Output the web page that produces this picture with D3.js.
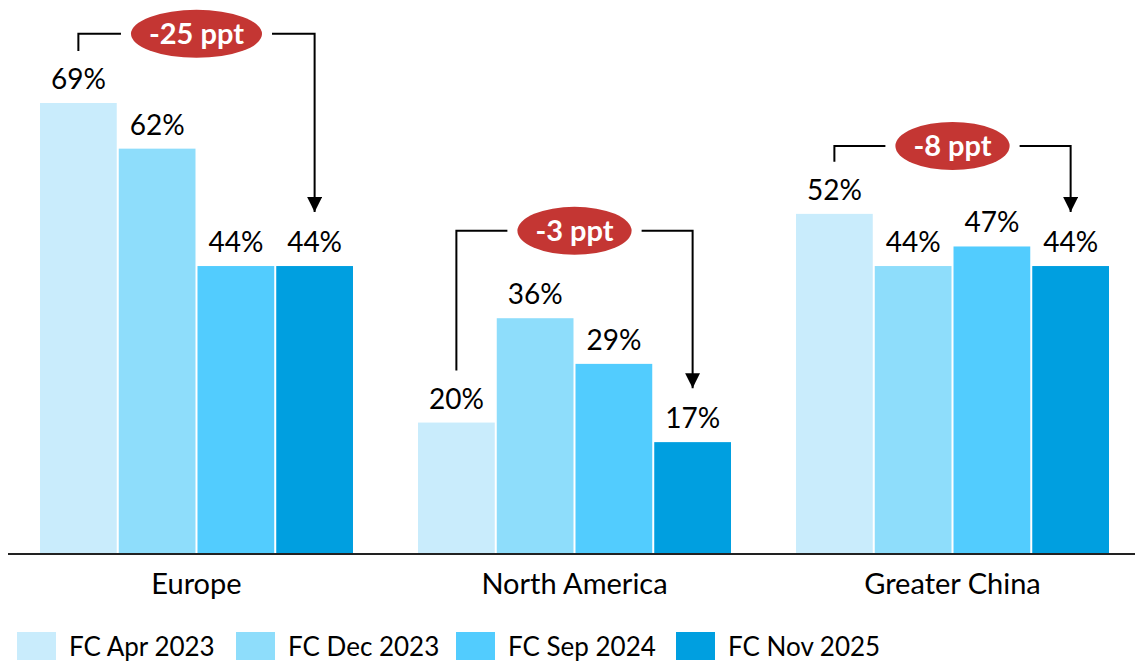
<!DOCTYPE html>
<html>
<head>
<meta charset="utf-8">
<script src="https://cdn.jsdelivr.net/npm/d3@7"></script>
<style>
  html, body { margin: 0; padding: 0; background: #fff; }
  svg { display: block; font-family: Lato, "Open Sans", sans-serif; }
</style>
</head>
<body>
<svg id="chart" width="1135" height="662"></svg>
<script>
// Regions and forecast vintages
const regions = ["Europe", "North America", "Greater China"];
const series = ["FC Apr 2023", "FC Dec 2023", "FC Sep 2024", "FC Nov 2025"];
const colors = ["#C9ECFC", "#8EDDFB", "#52CCFE", "#009FE0"];

// Share values (%) per region, one per forecast vintage
const europe = [69, 62, 44, 44];
const northAmerica = [20, 36, 29, 17];
const greaterChina = [52, 44, 47, 44];
const values = [europe, northAmerica, greaterChina];

// Change callouts: first vs. last forecast, with bracket height in value units
const deltaLabels = ["-25 ppt", "-3 ppt", "-8 ppt"];
const bracketLevels = [79.6, 49.4, 62.4];

const width = 1135, height = 662;
const baseline = 553;
const svg = d3.select("#chart");

const x0 = d3.scaleBand().domain(regions).range([40, 1109]).paddingInner(0.172).paddingOuter(0);
const x1 = d3.scaleBand().domain(series).range([0, x0.bandwidth()]).paddingInner(0.0254).paddingOuter(0);
const y = d3.scaleLinear().domain([0, 69]).range([baseline, 103]);

// Bars + value labels
const groups = svg.selectAll("g.region")
  .data(regions.map((r, i) => ({ region: r, vals: values[i] })))
  .join("g")
  .attr("class", "region")
  .attr("transform", d => `translate(${x0(d.region)},0)`);

groups.selectAll("rect")
  .data(d => d.vals.map((v, j) => ({ s: series[j], v, j })))
  .join("rect")
  .attr("x", d => x1(d.s))
  .attr("width", x1.bandwidth())
  .attr("y", d => y(d.v))
  .attr("height", d => baseline - y(d.v))
  .attr("fill", d => colors[d.j]);

groups.selectAll("text.val")
  .data(d => d.vals.map((v, j) => ({ s: series[j], v })))
  .join("text")
  .attr("class", "val")
  .attr("x", d => x1(d.s) + x1.bandwidth() / 2)
  .attr("y", d => y(d.v) - 14)
  .attr("text-anchor", "middle")
  .attr("font-size", 28)
  .attr("fill", "#000")
  .text(d => d.v + "%");

// Baseline axis
svg.append("line")
  .attr("x1", 8).attr("x2", width)
  .attr("y1", baseline + 1).attr("y2", baseline + 1)
  .attr("stroke", "#222").attr("stroke-width", 2);

// Category labels
svg.selectAll("text.cat")
  .data(regions)
  .join("text")
  .attr("class", "cat")
  .attr("x", d => x0(d) + x0.bandwidth() / 2)
  .attr("y", 594)
  .attr("text-anchor", "middle")
  .attr("font-size", 29)
  .attr("fill", "#000")
  .text(d => d);

// Arrow marker
svg.append("defs").append("marker")
  .attr("id", "arrow")
  .attr("viewBox", "0 0 10 10")
  .attr("refX", 10).attr("refY", 5)
  .attr("markerWidth", 15).attr("markerHeight", 15)
  .attr("markerUnits", "userSpaceOnUse")
  .attr("orient", "auto")
  .append("path").attr("d", "M0,0 L10,5 L0,10 Z").attr("fill", "#000");

// Delta brackets
regions.forEach((r, i) => {
  const vals = values[i];
  const xa = x0(r) + x1(series[0]) + x1.bandwidth() / 2;
  const xb = x0(r) + x1(series[3]) + x1.bandwidth() / 2;
  const yl = y(bracketLevels[i]);
  const ya = y(vals[0]) - 52;
  const yb = y(vals[3]) - 54;
  const g = svg.append("g");
  g.append("path")
    .attr("d", `M${xa},${ya} V${yl} H${xb} V${yb}`)
    .attr("fill", "none")
    .attr("stroke", "#000")
    .attr("stroke-width", 2)
    .attr("marker-end", "url(#arrow)");
  const cx = (xa + xb) / 2;
  const el = g.append("ellipse").attr("cx", cx).attr("cy", yl).attr("fill", "#C43633");
  const t = g.append("text")
    .attr("x", cx).attr("y", yl + 10)
    .attr("text-anchor", "middle")
    .attr("font-size", 29)
    .attr("font-weight", "bold")
    .attr("fill", "#fff")
    .text(deltaLabels[i]);
  const tw = t.node().getComputedTextLength();
  // white gap around the ellipse where the bracket line is interrupted
  g.insert("rect", "ellipse")
    .attr("x", cx - tw / 2 - 28).attr("y", yl - 3)
    .attr("width", tw + 56).attr("height", 6)
    .attr("fill", "#fff");
  el.attr("rx", tw / 2 + 18).attr("ry", 24);
});

// Legend
const legendX = [17, 236, 456, 676];
const legend = svg.selectAll("g.legend")
  .data(series)
  .join("g")
  .attr("class", "legend")
  .attr("transform", (d, i) => `translate(${legendX[i]},632)`);
legend.append("rect").attr("width", 39).attr("height", 28).attr("fill", (d, i) => colors[i]);
legend.append("text")
  .attr("x", 52).attr("y", 24)
  .attr("font-size", 26)
  .attr("fill", "#000")
  .text(d => d);
</script>
</body>
</html>
